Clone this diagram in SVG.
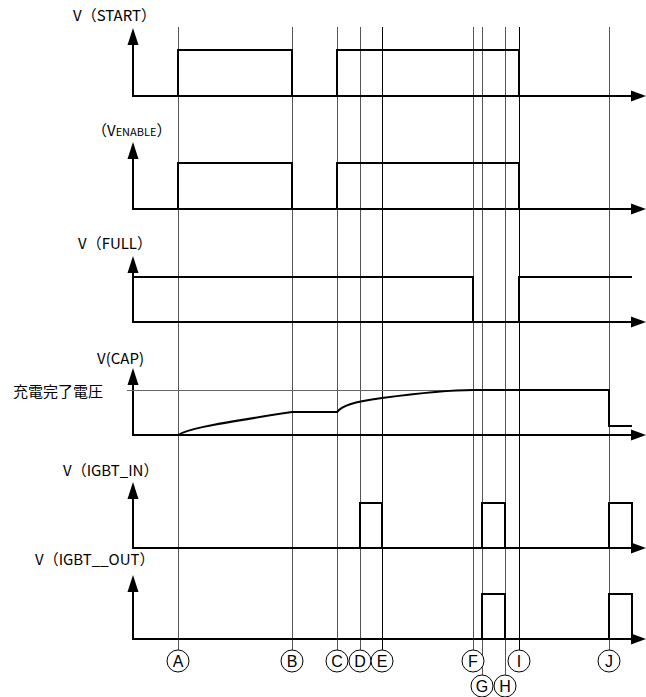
<svg xmlns="http://www.w3.org/2000/svg" width="646" height="697" viewBox="0 0 646 697">
<style>
.lbl{font-family:"Noto Sans CJK JP","Liberation Sans",sans-serif;font-size:15px;fill:#000}
.cl{font-family:"Liberation Sans","Noto Sans",sans-serif;font-size:16px;fill:#000;text-anchor:middle}
.vl{stroke:#555;stroke-width:1;fill:none;shape-rendering:crispEdges}
.vk{stroke:#000;stroke-width:1;fill:none;shape-rendering:crispEdges}
.ax{stroke:#000;stroke-width:2;fill:none}
.sg{stroke:#000;stroke-width:2;fill:none}
.ref{stroke:#666;stroke-width:1;fill:none;shape-rendering:crispEdges}
.circ{stroke:#000;stroke-width:1;fill:#fff}
.hd{fill:#000}
</style>
<defs>
<path id="up" d="M0,0 L-5.5,17 L5.5,17 Z"/>
<path id="rt" d="M0,0 L-15,-5.5 L-15,5.5 Z"/>
</defs>
<rect width="646" height="697" fill="#fff"/>
<g id="markers">
<line class="vl" x1="178.5" y1="27" x2="178.5" y2="650"/>
<line class="vl" x1="292.5" y1="27" x2="292.5" y2="650"/>
<line class="vl" x1="337.5" y1="27" x2="337.5" y2="650"/>
<line class="vl" x1="360.5" y1="27" x2="360.5" y2="650"/>
<line class="vk" x1="382.5" y1="27" x2="382.5" y2="650"/>
<line class="vl" x1="473.5" y1="27" x2="473.5" y2="650"/>
<line class="vl" x1="482.5" y1="27" x2="482.5" y2="675"/>
<line class="vl" x1="505.5" y1="27" x2="505.5" y2="675"/>
<line class="vk" x1="519.5" y1="27" x2="519.5" y2="650"/>
<line class="vl" x1="609.5" y1="27" x2="609.5" y2="650"/>
</g>
<g id="connectors">
<path class="ax" d="M133,40 V96 H634"/>
<use href="#up" class="hd" x="133" y="28"/><use href="#rt" class="hd" x="646" y="96"/>
<path class="ax" d="M133,154 V209 H634"/>
<use href="#up" class="hd" x="133" y="142"/><use href="#rt" class="hd" x="646" y="209"/>
<path class="ax" d="M133,268 V322 H634"/>
<use href="#up" class="hd" x="133" y="256"/><use href="#rt" class="hd" x="646" y="322"/>
<path class="ax" d="M133,380 V435 H634"/>
<use href="#up" class="hd" x="133" y="368"/><use href="#rt" class="hd" x="646" y="435"/>
<path class="ax" d="M133,494 V548 H634"/>
<use href="#up" class="hd" x="133" y="482"/><use href="#rt" class="hd" x="646" y="548"/>
<path class="ax" d="M133,587 V639 H634"/>
<use href="#up" class="hd" x="133" y="575"/><use href="#rt" class="hd" x="646" y="639"/>
</g>
<g id="start">
<text class="lbl" x="73" y="21">V（START）</text>
<path class="sg" d="M178,96 V50 H292 V96"/>
<path class="sg" d="M337,96 V50 H519 V96"/>
</g>
<g id="enable">
<text class="lbl" x="92" y="136">（V<tspan font-size="11">ENABLE</tspan>）</text>
<path class="sg" d="M178,209 V163 H292 V209"/>
<path class="sg" d="M337,209 V163 H519 V209"/>
</g>
<g id="full">
<text class="lbl" x="78" y="249">V（FULL）</text>
<path class="sg" d="M133,277 H473 V322"/>
<path class="sg" d="M519,322 V277 H632"/>
</g>
<g id="cap">
<text class="lbl" x="97" y="364">V(CAP)</text>
<text class="lbl" x="13" y="397" font-size="17">充電完了電圧</text>
<line class="ref" x1="127" y1="390.5" x2="609" y2="390.5"/>
<path class="sg" d="M178,435 C186,430 200,426 292,412 H337 C342,406 352,402 382,398 C420,393 450,390 473,390 H609 V426 H632"/>
</g>
<g id="igbt_in">
<text class="lbl" x="63" y="476">V（IGBT_IN）</text>
<path class="sg" d="M360,548 V503 H382 V548"/>
<path class="sg" d="M482,548 V503 H505 V548"/>
<path class="sg" d="M609,548 V503 H632 V548"/>
</g>
<g id="igbt_out">
<text class="lbl" x="35" y="565">V（IGBT__OUT）</text>
<path class="sg" d="M482,639 V594 H505 V639"/>
<path class="sg" d="M609,639 V594 H632 V639"/>
</g>
<g id="labels">
<circle class="circ" cx="178" cy="661" r="11"/><text class="cl" x="178" y="667">A</text>
<circle class="circ" cx="292" cy="661" r="11"/><text class="cl" x="292" y="667">B</text>
<circle class="circ" cx="337" cy="661" r="11"/><text class="cl" x="337" y="667">C</text>
<circle class="circ" cx="360" cy="661" r="11"/><text class="cl" x="360" y="667">D</text>
<circle class="circ" cx="382" cy="661" r="11"/><text class="cl" x="382" y="667">E</text>
<circle class="circ" cx="473" cy="661" r="11"/><text class="cl" x="473" y="667">F</text>
<circle class="circ" cx="482" cy="686" r="11"/><text class="cl" x="482" y="692">G</text>
<circle class="circ" cx="505" cy="686" r="11"/><text class="cl" x="505" y="692">H</text>
<circle class="circ" cx="519" cy="661" r="11"/><text class="cl" x="519" y="667">I</text>
<circle class="circ" cx="609" cy="661" r="11"/><text class="cl" x="609" y="667">J</text>
</g>
</svg>
